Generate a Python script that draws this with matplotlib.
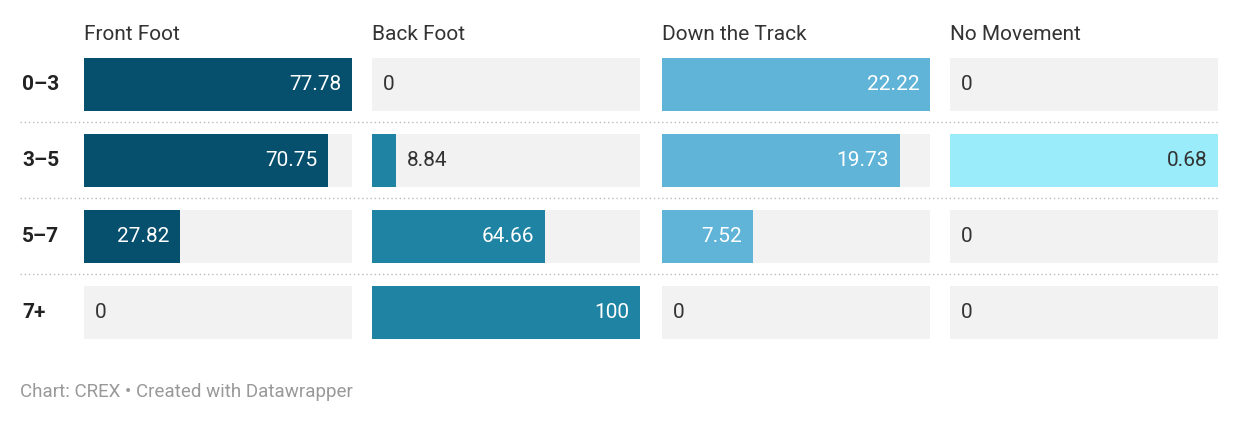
import matplotlib.pyplot as plt
from matplotlib.patches import Rectangle

plt.rcParams['font.family'] = ['Roboto', 'DejaVu Sans']

rows = ['0–3', '3–5', '5–7', '7+']
columns = ['Front Foot', 'Back Foot', 'Down the Track', 'No Movement']
front_foot = [77.78, 70.75, 27.82, 0]
back_foot = [0, 8.84, 64.66, 100]
down_track = [22.22, 19.73, 7.52, 0]
no_movement = [0, 0.68, 0, 0]
values = [front_foot, back_foot, down_track, no_movement]
colors = ['#064f6d', '#1f83a3', '#5fb4d8', '#9aecfb']
text_inside = ['white', 'white', 'white', '#333333']

W, H = 1240, 426
fig = plt.figure(figsize=(W / 100, H / 100), dpi=100)
fig.patch.set_facecolor('white')

col_x = [84, 372, 662, 950]
col_w = 268
row_y = [58, 134, 210, 286]
row_h = 53

def frac(x, y, w, h):
    return [x / W, 1 - (y + h) / H, w / W, h / H]

for j, (name, vals) in enumerate(zip(columns, values)):
    fig.text(col_x[j] / W, 1 - 34 / H, name, fontsize=15, color='#333333',
             va='center', ha='left')
    vmax = max(vals)
    for i, v in enumerate(vals):
        ax = fig.add_axes(frac(col_x[j], row_y[i], col_w, row_h))
        ax.set_xlim(0, vmax)
        ax.set_ylim(0, 1)
        ax.axis('off')
        ax.add_patch(Rectangle((0, 0), vmax, 1, color='#f2f2f2', zorder=0))
        ax.barh(0.5, v, height=1, color=colors[j], zorder=1)
        label = f'{v:g}' if v != 0 else '0'
        frac_v = v / vmax
        if v == 0:
            ax.text(0.04 * vmax, 0.5, label, ha='left', va='center',
                    fontsize=15, color='#333333')
        elif frac_v > 0.2:
            ax.text(v - 0.04 * vmax, 0.5, label, ha='right', va='center',
                    fontsize=15, color=text_inside[j])
        else:
            ax.text(v + 0.04 * vmax, 0.5, label, ha='left', va='center',
                    fontsize=15, color='#333333')

for i, r in enumerate(rows):
    fig.text(22 / W, 1 - (row_y[i] + row_h / 2) / H, r, fontsize=15,
             fontweight='bold', color='#222222', va='center', ha='left')

for y in [122, 198, 274]:
    fig.add_artist(plt.Line2D([20 / W, 1218 / W], [1 - y / H, 1 - y / H],
                              color='#bbbbbb', lw=1, ls=(0, (1, 2))))

fig.text(20 / W, 1 - 392 / H, 'Chart: CREX • Created with Datawrapper',
         fontsize=13.5, color='#999999', va='center', ha='left')

fig.savefig('out.png', dpi=100)
